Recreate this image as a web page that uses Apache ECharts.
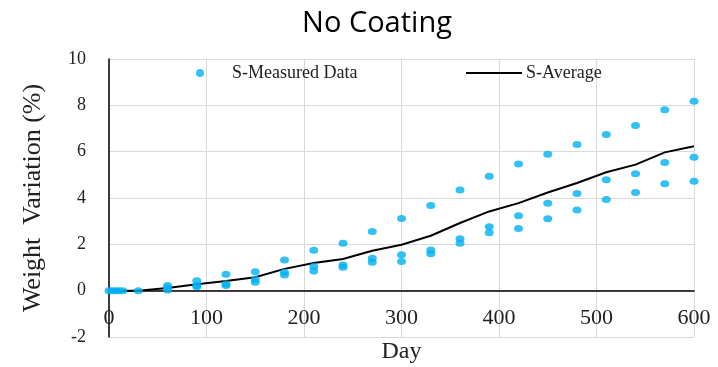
<!DOCTYPE html>
<html lang="en">
<head>
    <meta charset="UTF-8">
    <title>No Coating</title>
    <script src="https://cdn.jsdelivr.net/npm/echarts@6/dist/echarts.min.js"></script>
    <style>
        body { margin: 0; background: #fff; }
        #chart { width: 718px; height: 367px; }
    </style>
</head>
<body>
<div id="chart"></div>
<script>
// measured points
const earlyDays = [0, 3, 7, 10, 14, 30];
const earlyValues = [0, 0, 0, 0, 0, 0];
const sampleDays = [60, 90, 120, 150, 180, 210, 240, 270, 300, 330, 360, 390, 420, 450, 480, 510, 540, 570, 600];
const highValues = [0.22, 0.43, 0.71, 0.82, 1.32, 1.75, 2.05, 2.55, 3.12, 3.68, 4.35, 4.94, 5.47, 5.89, 6.31, 6.74, 7.13, 7.81, 8.18];
const midValues  = [0.12, 0.22, 0.29, 0.49, 0.80, 1.04, 1.11, 1.40, 1.55, 1.76, 2.24, 2.76, 3.23, 3.77, 4.19, 4.79, 5.05, 5.53, 5.76];
const lowValues  = [0.03, 0.17, 0.22, 0.36, 0.68, 0.85, 1.01, 1.23, 1.26, 1.59, 2.05, 2.50, 2.68, 3.10, 3.48, 3.93, 4.24, 4.61, 4.72];

// average line
const avgDays = [0, 14, 30, 60, 90, 120, 150, 180, 210, 240, 270, 300, 330, 360, 390, 420, 450, 480, 510, 540, 570, 600];
const avgValues = [0, 0, 0, 0.12, 0.28, 0.42, 0.58, 0.94, 1.19, 1.37, 1.72, 1.98, 2.37, 2.92, 3.42, 3.78, 4.24, 4.65, 5.11, 5.44, 5.97, 6.23];

const measured = earlyDays.map((d, i) => [d, earlyValues[i]]);
[highValues, midValues, lowValues].forEach(arr => {
    sampleDays.forEach((d, i) => measured.push([d, arr[i]]));
});
const average = avgDays.map((d, i) => [d, avgValues[i]]);

const serif = 'Liberation Serif';
const yMin = -2, yMax = 10;
const gridTop = 59, gridBottom = 30, chartH = 367;
// x axis sits on y = 0 (Excel style), labels just below it
const zeroOffset = -(chartH - gridTop - gridBottom) * (0 - yMin) / (yMax - yMin);

const chart = echarts.init(document.getElementById('chart'));
chart.setOption({
    animation: false,
    title: {
        text: 'No Coating',
        left: 372,
        textAlign: 'center',
        top: 4,
        textStyle: { fontFamily: 'Open Sans', fontSize: 29, fontWeight: 'normal', color: '#000' }
    },
    legend: [
        {
            data: ['S-Measured Data'],
            left: 191, top: 59,
            icon: 'circle', itemWidth: 8, itemHeight: 8,
            textStyle: { fontFamily: serif, fontSize: 18, color: '#222', padding: [0, 0, 0, 23] }
        },
        {
            data: [{ name: 'S-Average', icon: 'rect' }],
            left: 461, top: 59,
            itemWidth: 56, itemHeight: 2,
            textStyle: { fontFamily: serif, fontSize: 18, color: '#222', padding: [0, 0, 0, -1] }
        }
    ],
    grid: { left: 109, right: 24, top: gridTop, bottom: gridBottom, outerBoundsMode: 'none' },
    xAxis: {
        type: 'value',
        min: 0, max: 600, interval: 100,
        offset: zeroOffset,
        name: 'Day', nameLocation: 'middle', nameGap: 49,
        nameTextStyle: { fontFamily: serif, fontSize: 24, color: '#222' },
        axisLine: { onZero: false, lineStyle: { color: '#000', width: 1.5 } },
        axisTick: { show: false },
        axisLabel: { margin: 17, fontFamily: serif, fontSize: 22, color: '#222' },
        splitLine: { lineStyle: { color: '#d9d9d9', width: 1 } }
    },
    yAxis: {
        type: 'value',
        min: yMin, max: yMax, interval: 2,
        name: 'Weight  Variation (%)', nameLocation: 'middle', nameGap: 63,
        nameTextStyle: { fontFamily: serif, fontSize: 26, color: '#222' },
        axisLine: { show: true, lineStyle: { color: '#000', width: 1.5 } },
        axisTick: { show: false },
        axisLabel: { margin: 23, fontFamily: serif, fontSize: 18, color: '#222' },
        splitLine: { lineStyle: { color: '#d9d9d9', width: 1 } }
    },
    series: [
        {
            name: 'S-Measured Data',
            type: 'scatter',
            data: measured,
            symbol: 'circle',
            symbolSize: [9, 7],
            itemStyle: { color: '#00b0f0' },
            z: 3
        },
        {
            name: 'S-Average',
            type: 'line',
            data: average,
            showSymbol: false,
            symbol: 'none',
            lineStyle: { color: '#000', width: 2 },
            itemStyle: { color: '#000' },
            z: 2
        }
    ]
});
</script>
</body>
</html>
